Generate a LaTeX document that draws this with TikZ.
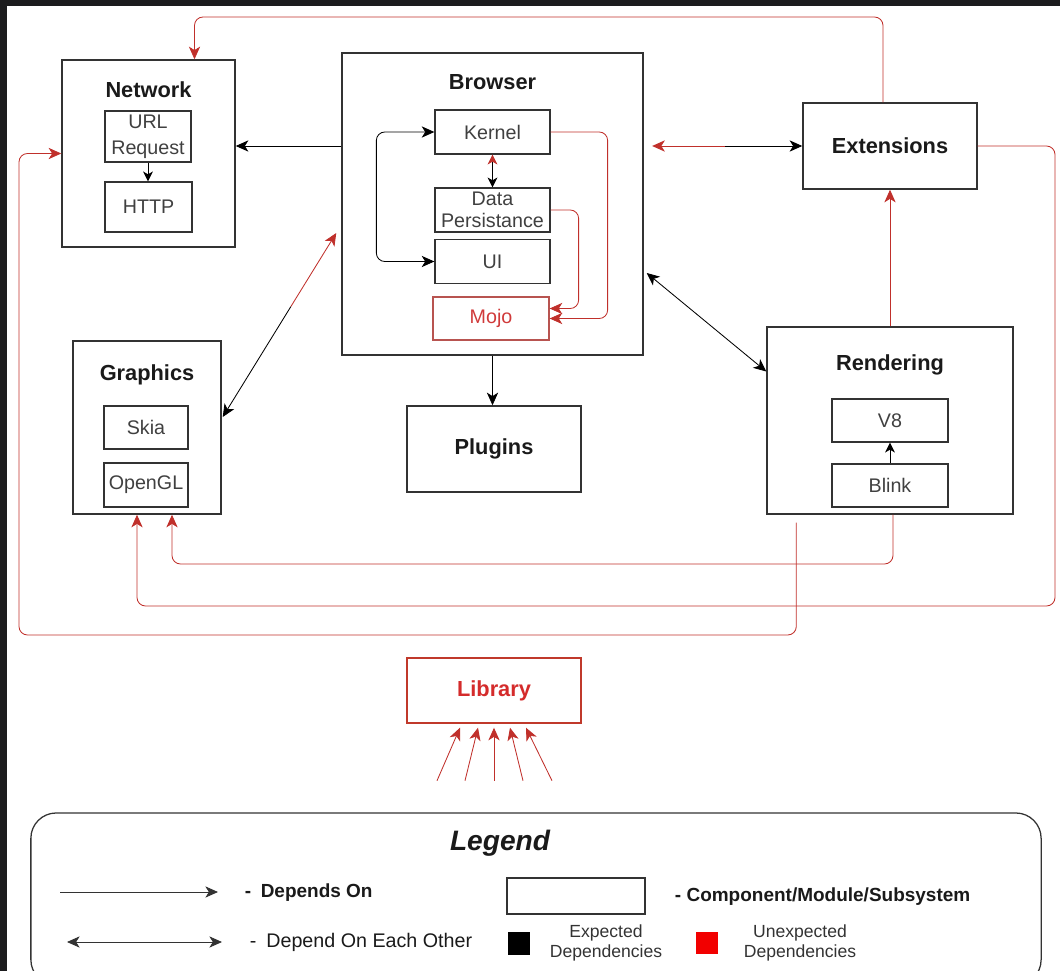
\documentclass[tikz,border=0pt]{standalone}
\usepackage{fontspec}
\setmainfont{Liberation Sans}
\usepackage{xcolor}
\usetikzlibrary{arrows.meta,positioning,calc}

\definecolor{framedark}{HTML}{1C1C1E}
\definecolor{boxgray}{HTML}{333333}
\definecolor{titleblack}{HTML}{1A1A1A}
\definecolor{partgray}{HTML}{404040}
\definecolor{depred}{HTML}{C0302B}
\definecolor{mojored}{HTML}{B85450}
\definecolor{mojotext}{HTML}{D03A3A}
\definecolor{libred}{HTML}{C0392B}
\definecolor{libtext}{HTML}{D42B2B}
\definecolor{keyred}{HTML}{F20000}

\begin{document}
\begin{tikzpicture}[
  x=0.025cm, y=-0.025cm,
  module/.style={rectangle, draw=boxgray, line width=1pt, inner sep=0pt, minimum width=4.35cm, minimum height=2.15cm, font=\bfseries\fontsize{15.5}{18}\selectfont, text=titleblack},
  part/.style={rectangle, draw=boxgray, line width=0.9pt, inner sep=0pt, minimum width=2.875cm, minimum height=1.1cm, align=center, font=\fontsize{14}{16}\selectfont, text=partgray},
  heading/.style={font=\bfseries\fontsize{15.5}{18}\selectfont, text=titleblack},
  keytext/.style={anchor=west, font=\fontsize{14}{17}\selectfont, text=titleblack},
  keynote/.style={align=center, font=\fontsize{12.5}{14}\selectfont, text=boxgray},
  link/.style={line width=0.6pt, draw=black},
  oddlink/.style={line width=0.6pt, draw=depred, rounded corners=6pt},
  tinytip/.style={>={Stealth[length=7pt,width=7pt,inset=2pt]}},
  >={Stealth[length=9pt,width=8pt,inset=2.5pt]}
]
  \useasboundingbox (0,0) rectangle (1060,971);
  \clip (0,0) rectangle (1060,971);
  \fill[framedark] (0,0) rectangle (1060,6);
  \fill[framedark] (0,0) rectangle (7,971);

  % Network
  \node[module, minimum width=4.325cm, minimum height=4.675cm] (net) at (148.5,153.5) {};
  \node[heading] (net title) at (148.5,90) {Network};
  \node[part, minimum width=2.15cm, minimum height=1.275cm, font=\fontsize{14}{18.5}\selectfont] (url) at (148,136.5) {URL\\Request};
  \node[part, minimum width=2.175cm, minimum height=1.25cm] (http) at (148.5,207) {HTTP};

  % Browser with its parts
  \node[module, minimum width=7.525cm, minimum height=7.55cm] (browser) at (492.5,204) {};
  \node[heading] (browser title) at (492.5,82) {Browser};
  \node[part] (kernel) at (492.5,132) {Kernel};
  \node[part] (datap) at (492.5,210) {Data\\Persistance};
  \node[part] (ui) at (492.5,261.5) {UI};
  \node[part, draw=mojored, text=mojotext, minimum width=2.9cm, minimum height=1.075cm] (mojo) at (491,318.5) {Mojo};

  % Extensions and Plugins
  \node[module] (ext) at (890,146) {Extensions};
  \node[module] (plugins) at (494,449) {Plugins};

  % Graphics
  \node[module, minimum width=3.7cm, minimum height=4.325cm] (gfx) at (147,427.5) {};
  \node[heading] (gfx title) at (147,375) {Graphics};
  \node[part, minimum width=2.1cm, minimum height=1.075cm] (skia) at (146,427.5) {Skia};
  \node[part, minimum width=2.1cm] (opengl) at (146,485) {OpenGL};

  % Rendering
  \node[module, minimum width=6.15cm, minimum height=4.675cm] (render) at (890,420.5) {};
  \node[heading] (render title) at (890,365) {Rendering};
  \node[part, minimum width=2.9cm, minimum height=1.075cm] (v8) at (890,420.5) {V8};
  \node[part, minimum width=2.9cm, minimum height=1.075cm] (blink) at (890,485.5) {Blink};

  % Library
  \node[module, draw=libred, text=libtext, minimum height=1.625cm] (lib) at (494,690.5) {Library};

  % Inside Network and Rendering
  \draw[link, tinytip, ->] (url.south) -- (url.south |- http.north);
  \draw[link, tinytip, ->] (blink) -- (v8);

  % Inside Browser
  \draw[link, <->, rounded corners=6pt] (kernel.west) -- ++(-58,0) |- (ui.west);
  \draw[link, {Stealth[length=7pt,width=7pt,inset=2pt,color=depred]}-{Stealth[length=7pt,width=7pt,inset=2pt]}] (kernel) -- (datap);
  \draw[oddlink, ->] (kernel.east) -- ++(57,0) |- (mojo.east);
  \draw[oddlink, ->] (datap.east) -- ++(28,0) |- ($(mojo.east)+(0,-10)$);

  % Browser to its neighbours
  \draw[link, ->] (browser.west |- ext.west) -- (net.east |- ext.west);
  \coordinate (be mid) at (725,146);
  \draw[link, ->] (be mid) -- (ext.west);
  \draw[oddlink, ->, shorten >=6pt] (be mid) -- (browser.east |- be mid);
  \draw[link, ->] (browser.south) -- (browser.south |- plugins.north);
  \draw[link, <->] ($(browser.east)+(3,69)$) -- ($(render.west)+(0,-49)$);

  % Browser and Graphics, half red
  \coordinate (bg top) at ($(browser.west)+(-5,29)$);
  \coordinate (bg bot) at ($(gfx.east)+(1,-10.5)$);
  \coordinate (bg mid) at ($(bg top)!0.4!(bg bot)$);
  \draw[oddlink, ->] (bg mid) -- (bg top);
  \draw[link, ->] (bg mid) -- (bg bot);

  % Unexpected long runs
  \draw[oddlink, ->] (render) -- (ext);
  \coordinate (top lane) at (0,17);
  \coordinate (ext up) at ($(ext.north)+(-7,0)$);
  \draw[oddlink, ->] (ext up) -- (ext up |- top lane) -| ($(net.north)+(46,0)$);
  \coordinate (right lane) at (1055,606);
  \draw[oddlink, ->] (ext.east) -| (right lane) -| ($(gfx.south)+(-10,0)$);
  \coordinate (mid lane) at (0,564);
  \coordinate (render out) at ($(render.south)+(3,0)$);
  \draw[oddlink, ->] (render out) -- (render out |- mid lane) -| ($(gfx.south)+(25,0)$);
  \coordinate (render tail) at ($(render.south west)+(30,8)$);
  \coordinate (outer lane) at (19,635);
  \draw[oddlink, ->] (render tail) |- (outer lane) |- (net.west);

  % Arrows into Library
  \foreach \dx/\tx [count=\i] in {-34/-57,-16/-29,0/0,16/29,32/58} {
    \coordinate (lib tail \i) at ($(lib.south)+(\tx,57)$);
    \draw[oddlink, ->] (lib tail \i) -- ($(lib.south)+(\dx,4)$);
  }

  % Legend
  \node[draw=boxgray, line width=0.9pt, rounded corners=18pt, minimum width=25.25cm, minimum height=4.3cm] (legend) at (536,899) {};
  \node[font=\bfseries\itshape\fontsize{20}{24}\selectfont, text=titleblack] (legend title) at (500,843) {Legend};
  \coordinate (dep tail) at (60,892);
  \coordinate (dep head) at (218,892);
  \draw[link, draw=boxgray, ->] (dep tail) -- (dep head);
  \node[keytext, font=\bfseries\fontsize{13.5}{16}\selectfont] (dep text) at (240,893) {-\enspace Depends On};
  \coordinate (mutual tail) at (67,942);
  \coordinate (mutual head) at (222,942);
  \draw[link, draw=boxgray, <->] (mutual tail) -- (mutual head);
  \node[keytext] (mutual text) at (245,942) {-\enspace Depend On Each Other};
  \node[draw=boxgray, line width=0.9pt, minimum width=3.45cm, minimum height=0.9cm, inner sep=0pt] (comp key) at (576,896) {};
  \node[keytext, font=\bfseries\fontsize{13.5}{16}\selectfont] (comp text) at (670,897) {- Component/Module/Subsystem};
  \node[fill=black, minimum width=0.55cm, minimum height=0.575cm, inner sep=0pt] (expected key) at (519,943.5) {};
  \node[keynote] (expected text) at (606,943) {Expected\\Dependencies};
  \node[fill=keyred, minimum width=0.55cm, minimum height=0.55cm, inner sep=0pt] (unexpected key) at (707,943) {};
  \node[keynote] (unexpected text) at (800,943) {Unexpected\\Dependencies};
\end{tikzpicture}
\end{document}
